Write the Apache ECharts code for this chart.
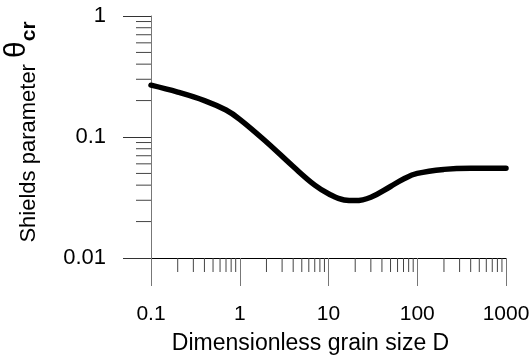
<!DOCTYPE html>
<html>
<head>
<meta charset="utf-8">
<script src="https://cdn.jsdelivr.net/npm/echarts@6/dist/echarts.min.js"></script>
<style>
	html, body { margin: 0; padding: 0; background: #ffffff; }
	#main { width: 532px; height: 356px; }
</style>
</head>
<body>
<div id="main"></div>
<script>
// grain size D and critical Shields parameter
var grainSize = [0.1, 0.2, 0.4, 0.7, 1, 2, 4, 7, 10, 15, 20, 30, 50, 70, 100, 200, 400, 1000];
var shields = [0.268, 0.235, 0.2, 0.167, 0.14, 0.091, 0.057, 0.04, 0.034, 0.0302, 0.0298, 0.0318, 0.039, 0.045, 0.05, 0.054, 0.0552, 0.0552];

// minor ticks (log axis minor ticks in echarts are not 2..9 spaced)
var xMinor = [0.2, 0.3, 0.4, 0.5, 0.6, 0.7, 0.8, 0.9, 2, 3, 4, 5, 6, 7, 8, 9,
	20, 30, 40, 50, 60, 70, 80, 90, 200, 300, 400, 500, 600, 700, 800, 900];
var yMinor = [0.02, 0.03, 0.04, 0.05, 0.06, 0.07, 0.08, 0.09, 0.2, 0.3, 0.4, 0.5, 0.6, 0.7, 0.8, 0.9];

var xMin = 0.1, xMax = 1000;
var yMin = 0.01, yMax = 1;

var chart = echarts.init(document.getElementById('main'), null, { renderer: 'canvas' });

var line = [];
for (var i = 0; i < grainSize.length; i++) {
	line.push([grainSize[i], shields[i]]);
}

var option = {
	backgroundColor: '#ffffff',
	animation: false,
	textStyle: { fontFamily: 'Liberation Sans, Arial, sans-serif' },
	grid: { left: 151, right: 26, top: 16, bottom: 98, containLabel: false, outerBoundsMode: 'none' },
	xAxis: {
		type: 'log',
		logBase: 10,
		min: xMin,
		max: xMax,
		name: 'Dimensionless grain size D',
		nameLocation: 'middle',
		nameGap: 74,
		nameTextStyle: { color: '#000', fontSize: 23, padding: [0, 36, 0, 0] },
		axisLine: { lineStyle: { color: '#000', width: 1 } },
		axisTick: { length: 28, lineStyle: { color: '#777', width: 1 } },
		axisLabel: {
			color: '#000',
			fontSize: 21,
			margin: 46,
			formatter: function (v) { return String(v); }
		},
		splitLine: { show: false }
	},
	yAxis: {
		type: 'log',
		logBase: 10,
		min: yMin,
		max: yMax,
		name: '{a|Shields parameter }{t|θ}{s|cr}',
		nameLocation: 'middle',
		nameRotate: 90,
		nameGap: 111,
		nameTextStyle: {
			color: '#000',
			padding: [0, 0, 0, 10],
			rich: {
				a: { fontSize: 22, color: '#000', verticalAlign: 'bottom' },
				t: { fontSize: 30, color: '#000', verticalAlign: 'bottom', padding: [0, 0, 8, 0] },
				s: { fontSize: 21, fontWeight: 'bold', color: '#000', verticalAlign: 'bottom' }
			}
		},
		axisLine: { lineStyle: { color: '#777', width: 1 } },
		axisTick: { length: 28, lineStyle: { color: '#333', width: 1 } },
		axisLabel: {
			color: '#000',
			fontSize: 22,
			margin: 45,
			formatter: function (v) { return String(v); }
		},
		splitLine: { show: false }
	},
	series: [{
		type: 'line',
		data: line,
		smooth: 0.4,
		showSymbol: false,
		lineStyle: { color: '#000', width: 5.5, cap: 'round' },
		z: 5
	}, {
		type: 'custom',
		clip: false,
		silent: true,
		data: xMinor,
		renderItem: function (params, api) {
			var p = api.coord([api.value(0), yMin]);
			return {
				type: 'line',
				shape: { x1: p[0], y1: p[1], x2: p[0], y2: p[1] + 14 },
				style: { stroke: '#444', lineWidth: 1 }
			};
		},
		encode: { x: 0 }
	}, {
		type: 'custom',
		clip: false,
		silent: true,
		data: yMinor,
		renderItem: function (params, api) {
			var p = api.coord([xMin, api.value(0)]);
			return {
				type: 'line',
				shape: { x1: p[0] - 15, y1: p[1], x2: p[0], y2: p[1] },
				style: { stroke: '#444', lineWidth: 1 }
			};
		},
		encode: { y: 0 }
	}]
};

chart.setOption(option);
</script>
</body>
</html>
